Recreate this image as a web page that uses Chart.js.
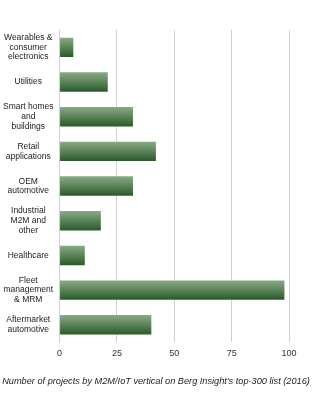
<!DOCTYPE html>
<html>
<head>
<meta charset="utf-8">
<script src="https://cdn.jsdelivr.net/npm/chart.js@4/dist/chart.umd.min.js"></script>
<style>
  html, body { margin: 0; padding: 0; background: #fff; }
  #wrap { width: 312px; height: 400px; }
</style>
</head>
<body>
<div id="wrap"><canvas id="barChart"></canvas></div>
<script>
// categories, one label per bar (multi-line)
var categories = [
    ['Wearables &', 'consumer', 'electronics'],
    ['Utilities'],
    ['Smart homes', 'and', 'buildings'],
    ['Retail', 'applications'],
    ['OEM', 'automotive'],
    ['Industrial', 'M2M and', 'other'],
    ['Healthcare'],
    ['Fleet', 'management', '& MRM'],
    ['Aftermarket', 'automotive']
];
// number of projects
var projects = [6, 21, 32, 42, 32, 18, 11, 98, 40];
var xTicks = [0, 25, 50, 75, 100];
var barPct = 0.56;

// bars go light on top to dark at the bottom
function barFill(context) {
    var chart = context.chart;
    var area = chart.chartArea;
    var yScale = chart.scales.y;
    if (!area || !yScale) return '#4a7a4a';
    var center = yScale.getPixelForValue(context.dataIndex);
    var h = (area.bottom - area.top) / categories.length * barPct;
    var g = chart.ctx.createLinearGradient(0, center - h / 2, 0, center + h / 2);
    g.addColorStop(0, '#8aa988');
    g.addColorStop(0.45, '#5f875d');
    g.addColorStop(1, '#2a582a');
    return g;
}

var ctxBar = document.getElementById('barChart');
var myBarChart = new Chart(ctxBar, {
    type: 'bar',
    data: {
        labels: categories,
        datasets: [{
            data: projects,
            backgroundColor: barFill,
            borderWidth: 0,
            barPercentage: barPct,
            categoryPercentage: 1
        }]
    },
    options: {
        indexAxis: 'y',
        responsive: true,
        maintainAspectRatio: false,
        animation: false,
        layout: { padding: { top: 30, right: 0, left: 0, bottom: 13 } },
        plugins: {
            legend: { display: false },
            tooltip: { enabled: false },
            title: {
                display: true,
                position: 'bottom',
                text: "Number of projects by M2M/IoT vertical on Berg Insight's top-300 list (2016)",
                color: '#222',
                font: { family: 'Liberation Sans', size: 9.2, style: 'italic', weight: 'normal' },
                padding: { top: 11, bottom: 0 }
            }
        },
        scales: {
            x: {
                min: 0,
                max: 100,
                afterBuildTicks: function (axis) {
                    axis.ticks = xTicks.map(function (v) { return { value: v }; });
                },
                grid: { color: '#d0d0d0', lineWidth: 1, drawTicks: false },
                border: { display: false },
                ticks: {
                    color: '#333',
                    padding: 6,
                    font: { family: 'Liberation Sans', size: 9 }
                }
            },
            y: {
                grid: { display: false, drawOnChartArea: false, tickLength: 3, offset: true },
                border: { display: true, color: '#d0d0d0' },
                ticks: {
                    color: '#222',
                    padding: 3,
                    crossAlign: 'center',
                    font: { family: 'Liberation Sans', size: 8.5, lineHeight: 1.15 }
                }
            },
            // empty right-hand axis, only keeps room on the right
            yRight: {
                position: 'right',
                display: true,
                grid: { display: false },
                border: { display: false },
                ticks: { display: false },
                afterFit: function (axis) { axis.width = 23; }
            }
        }
    }
});
</script>
</body>
</html>
